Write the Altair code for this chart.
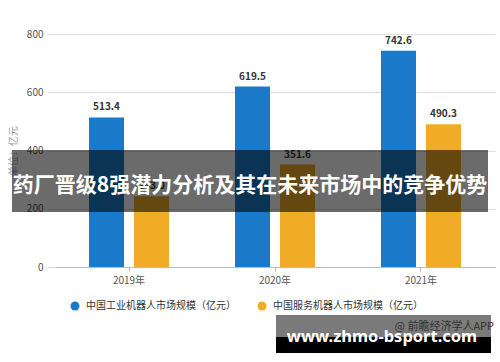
import altair as alt
import pandas as pd

years = ["2019年", "2020年", "2021年"]
series = ["中国工业机器人市场规模（亿元）", "中国服务机器人市场规模（亿元）"]
industrial = [513.4, 619.5, 742.6]
service = [243.0, 351.6, 490.3]
y_ticks = [0, 200, 400, 600, 800]
y_title = "单位：亿元"
banner_text = "药厂晋级8强潜力分析及其在未来市场中的竞争优势"
source_text = "@ 前瞻经济学人APP"
site_text = "www.zhmo-bsport.com"
colors = ["#1a7ac9", "#f0ac27"]

rows = []
for i, yr in enumerate(years):
    rows.append({"year": yr, "series": series[0], "value": industrial[i], "label": f"{industrial[i]:.1f}"})
    rows.append({"year": yr, "series": series[1], "value": service[i], "label": f"{service[i]:.1f}"})
df = pd.DataFrame(rows)

FONT = "Noto Sans CJK SC"

base = alt.Chart(df).encode(
    x=alt.X(
        "year:N",
        sort=years,
        scale=alt.Scale(paddingInner=0.452, paddingOuter=0.233),
        axis=alt.Axis(
            title=None, labelAngle=0, domainColor="#bbbbbb", tickColor="#bbbbbb",
            tickSize=4, labelColor="#555555", labelFontSize=10, labelPadding=4,
            labelFont=FONT,
        ),
    ),
    xOffset=alt.XOffset("series:N", sort=series, scale=alt.Scale(paddingInner=0.222, paddingOuter=0)),
    y=alt.Y(
        "value:Q",
        scale=alt.Scale(domain=[0, 800]),
        axis=alt.Axis(
            values=y_ticks, title=y_title, grid=True, gridColor="#dddddd",
            tickColor="#dddddd", tickSize=8, domain=False, labelColor="#555555",
            labelFontSize=10, labelPadding=4, labelFont=FONT,
            titleColor="#999999", titleFontSize=10, titleFontWeight="normal",
            titlePadding=8, titleFont=FONT,
        ),
    ),
)

bars = base.mark_bar().encode(
    color=alt.Color(
        "series:N",
        sort=series,
        scale=alt.Scale(domain=series, range=colors),
        legend=alt.Legend(
            title=None, orient="none", legendX=15, legendY=267, direction="horizontal",
            symbolType="circle", symbolSize=80, symbolStrokeWidth=0,
            labelFontSize=10, labelColor="#333333", labelLimit=300, labelFont=FONT,
            columnPadding=21, labelOffset=6, padding=0,
        ),
    )
)

labels = base.mark_text(
    dy=-5, baseline="bottom", fontWeight="bold", fontSize=10, color="#333333", font=FONT
).encode(text="label:N")

bdf = pd.DataFrame({"t": [banner_text]})
banner = alt.Chart(bdf).mark_rect(color="black", opacity=0.58).encode(
    x=alt.value(-43), x2=alt.value(433), y=alt.value(116), y2=alt.value(178)
)
banner_txt = alt.Chart(bdf).mark_text(
    color="white", fontSize=21, fontWeight="bold", font=FONT, baseline="middle", align="center"
).encode(x=alt.value(195), y=alt.value(152), text="t:N")

sdf = pd.DataFrame({"s": [source_text], "w": [site_text]})
wm_gray = alt.Chart(sdf).mark_rect(color="black", opacity=0.52).encode(
    x=alt.value(221), x2=alt.value(436), y=alt.value(281), y2=alt.value(303)
)
wm_black = alt.Chart(sdf).mark_rect(color="black").encode(
    x=alt.value(221), x2=alt.value(436), y=alt.value(303), y2=alt.value(319)
)
wm_src = alt.Chart(sdf).mark_text(
    color="#333333", fontSize=11, font=FONT, align="right", baseline="middle"
).encode(x=alt.value(439), y=alt.value(293), text="s:N")
wm_site = alt.Chart(sdf).mark_text(
    color="white", fontSize=16.5, fontWeight="bold", font="Noto Sans", align="center", baseline="alphabetic"
).encode(x=alt.value(327), y=alt.value(308), text="w:N")

chart = alt.layer(bars, labels, banner, banner_txt, wm_gray, wm_black, wm_src, wm_site).properties(
    width=440,
    height=233,
    autosize=alt.AutoSizeParams(type="none"),
    padding={"left": 55, "top": 34, "right": 5, "bottom": 95},
    background="white",
).configure_view(stroke=None)

chart.save("out.html", embed_options={"renderer": "svg", "actions": False})
